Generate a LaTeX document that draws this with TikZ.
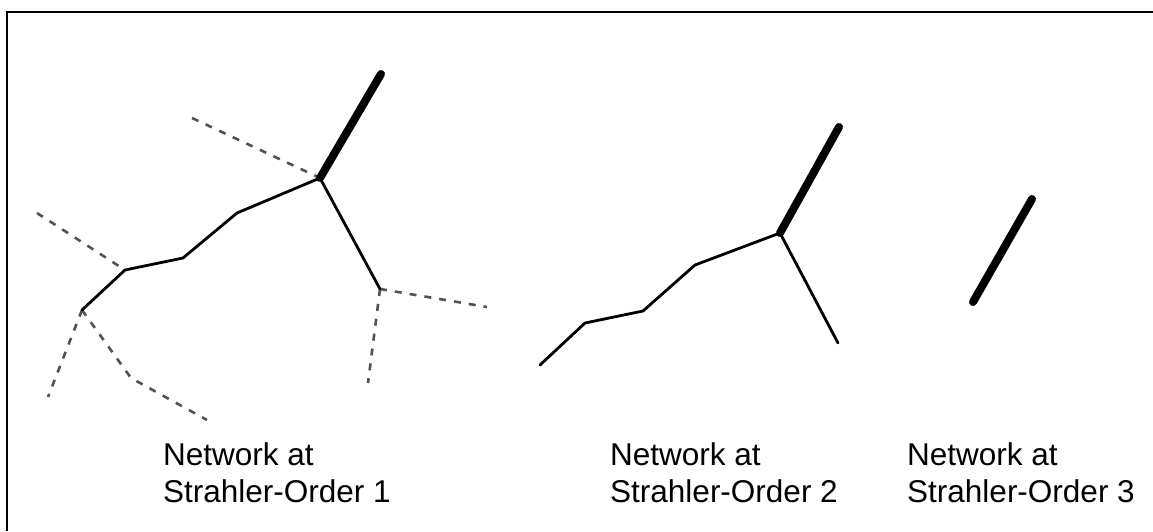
\documentclass[tikz,border=0pt]{standalone}
\usepackage{fontspec}
\setmainfont{Liberation Sans}
\begin{document}
\begin{tikzpicture}[x=1pt,y=-1pt,
  thin stream/.style={line width=2.8pt,line join=round,line cap=round,black},
  thick stream/.style={line width=8pt,line cap=round,black},
  dash stream/.style={line width=2.6pt,dash pattern=on 7pt off 8pt,black!68},
  frame/.style={line width=2pt,black},
  lbl/.style={anchor=base west,inner sep=0pt,font=\fontsize{31.5pt}{37pt}\selectfont}]
\useasboundingbox (0,0) rectangle (1153,531);
% frame (top and left edges)
\coordinate (fTR) at (1153,12);
\coordinate (fTL) at (6.5,12);
\coordinate (fBL) at (6.5,531);
\draw[frame] (fTR) -- (fTL) -- (fBL);

% ---------- Network 1 ----------
\coordinate (a0) at (381,74);
\coordinate (aJ) at (320,178);
\coordinate (a1) at (237,213);
\coordinate (a2) at (183,258);
\coordinate (a3) at (125,270);
\coordinate (a4) at (82,310);
\coordinate (a5) at (380,289);
\coordinate (d1) at (192,118);
\coordinate (d2) at (37,213);
\coordinate (d3) at (48,397);
\coordinate (d4) at (131,378);
\coordinate (d5) at (207,420);
\coordinate (d6) at (487,307);
\coordinate (d7) at (368,383);
\draw[dash stream] (d1) -- (aJ);
\draw[dash stream] (d2) -- (a3);
\draw[dash stream] (a4) -- (d3);
\draw[dash stream] (a4) -- (d4) -- (d5);
\draw[dash stream] (a5) -- (d6);
\draw[dash stream] (a5) -- (d7);
\draw[thin stream] (a4) -- (a3) -- (a2) -- (a1) -- (aJ) -- (a5);
\draw[thick stream] (aJ) -- (a0);

% ---------- Network 2 ----------
\coordinate (b0) at (839,127);
\coordinate (bJ) at (780,233);
\coordinate (b1) at (695,265);
\coordinate (b2) at (643,311);
\coordinate (b3) at (585,323);
\coordinate (b4) at (540,365);
\coordinate (b5) at (838,343);
\draw[thin stream] (b4) -- (b3) -- (b2) -- (b1) -- (bJ) -- (b5);
\draw[thick stream] (bJ) -- (b0);

% ---------- Network 3 ----------
\coordinate (c0) at (1032,199);
\coordinate (c1) at (973,302);
\draw[thick stream] (c1) -- (c0);

% ---------- Labels ----------
\node[lbl] (l1a) at (163,465) {Network at};
\node[lbl] (l1b) at (163,502) {Strahler-Order 1};
\node[lbl] (l2a) at (610,465) {Network at};
\node[lbl] (l2b) at (610,502) {Strahler-Order 2};
\node[lbl] (l3a) at (907,465) {Network at};
\node[lbl] (l3b) at (907,502) {Strahler-Order 3};
\end{tikzpicture}
\end{document}
